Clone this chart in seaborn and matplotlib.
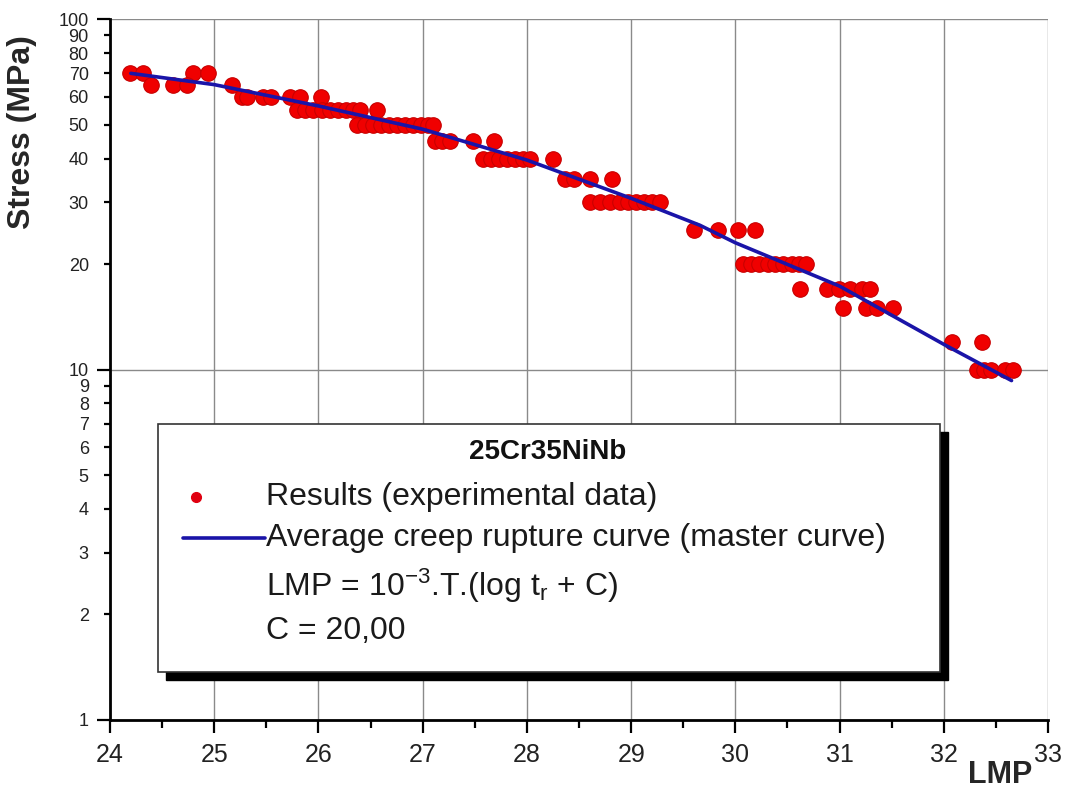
import numpy as np
import pandas as pd
import seaborn as sns
import matplotlib.pyplot as plt
from matplotlib.patches import Rectangle
from matplotlib.lines import Line2D
from matplotlib.ticker import LogLocator, FuncFormatter, MultipleLocator

# experimental creep rupture results (LMP, stress in MPa)
lmp_70 = [24.19, 24.32, 24.80, 24.94]
lmp_65 = [24.39, 24.60, 24.74, 25.17]
lmp_60 = [25.27, 25.31, 25.47, 25.54, 25.73, 25.82, 26.02]
lmp_55 = [25.79, 25.87, 25.95, 26.03, 26.11, 26.19, 26.26, 26.33, 26.40, 26.56]
lmp_50 = [26.37, 26.45, 26.52, 26.60, 26.68, 26.75, 26.83, 26.91, 26.98, 27.05, 27.10]
lmp_45 = [27.12, 27.19, 27.26, 27.48, 27.68]
lmp_40 = [27.58, 27.66, 27.73, 27.81, 27.89, 27.96, 28.03, 28.25]
lmp_35 = [28.37, 28.45, 28.61, 28.82]
lmp_30 = [28.61, 28.70, 28.80, 28.89, 28.97, 29.05, 29.12, 29.20, 29.28]
lmp_25 = [29.60, 29.83, 30.03, 30.19]
lmp_20 = [30.07, 30.15, 30.23, 30.31, 30.38, 30.46, 30.54, 30.61, 30.68]
lmp_17 = [30.62, 30.88, 30.99, 31.10, 31.22, 31.29]
lmp_15 = [31.03, 31.25, 31.36, 31.51]
lmp_12 = [32.08, 32.37]
lmp_10 = [32.32, 32.39, 32.45, 32.59, 32.66]
stress_levels = [70, 65, 60, 55, 50, 45, 40, 35, 30, 25, 20, 17, 15, 12, 10]

# master curve
curve_lmp = [24.2, 25.0, 26.0, 27.0, 28.0, 29.0, 29.66, 30.0, 31.0, 32.0, 32.65]
curve_stress = [70, 65, 56.5, 48.5, 39.6, 30.8, 25.8, 23.0, 17.3, 11.8, 9.3]

groups = [lmp_70, lmp_65, lmp_60, lmp_55, lmp_50, lmp_45, lmp_40, lmp_35,
          lmp_30, lmp_25, lmp_20, lmp_17, lmp_15, lmp_12, lmp_10]
pts = pd.DataFrame({
    "LMP": [x for g in groups for x in g],
    "Stress": [s for g, s in zip(groups, stress_levels) for _ in g],
})
curve = pd.DataFrame({"LMP": curve_lmp, "Stress": curve_stress})

sns.set_theme(style="white")
plt.rcParams['font.family'] = ['Liberation Sans', 'DejaVu Sans']
plt.rcParams['mathtext.default'] = 'regular'

fig = plt.figure(figsize=(10.84, 7.94), dpi=100)
ax = fig.add_axes([0.1015, 0.0932, 0.8653, 0.8828])

sns.scatterplot(data=pts, x="LMP", y="Stress", ax=ax, s=125, color="#f00000",
                edgecolor="#c80000", linewidth=0.8, zorder=3, legend=False)
sns.lineplot(data=curve, x="LMP", y="Stress", ax=ax, color="#1a14a8", lw=2.6,
             zorder=4, legend=False)

ax.set_yscale("log")
ax.set_xlim(24, 33)
ax.set_ylim(1, 100)

ax.xaxis.set_major_locator(MultipleLocator(1))
ax.xaxis.set_minor_locator(MultipleLocator(0.5))
ax.yaxis.set_major_locator(LogLocator(base=10))
ax.yaxis.set_minor_locator(LogLocator(base=10, subs=np.arange(2, 10)))
fmt = FuncFormatter(lambda v, p: "%d" % round(v))
ax.yaxis.set_major_formatter(fmt)
ax.yaxis.set_minor_formatter(fmt)

ax.grid(True, which="major", color="#8a8a8a", lw=1.0)
for side in ["top", "right"]:
    ax.spines[side].set_visible(False)
for side in ["left", "bottom"]:
    ax.spines[side].set_color("black")
    ax.spines[side].set_linewidth(2)

ax.tick_params(axis="both", which="both", direction="out", color="black",
               width=1.6, labelcolor="#222222", left=True, bottom=True)
ax.tick_params(axis="x", which="major", length=9.4, labelsize=18, pad=7)
ax.tick_params(axis="x", which="minor", length=5.8)
ax.tick_params(axis="y", which="major", length=9.4, labelsize=13, pad=6)
ax.tick_params(axis="y", which="minor", length=4.3, labelsize=13, pad=11)

ax.set_xlabel("")
ax.set_ylabel("Stress (MPa)", fontsize=23, fontweight="bold")
ax.yaxis.set_label_coords(-0.078, 0.839)
fig.text(0.893, 0.014, "LMP", fontsize=22, fontweight="bold", ha="left", va="baseline")

# legend box with hard black shadow
bx0, by0, bw, bh = 0.0512, 0.0685, 0.834, 0.354
ax.add_patch(Rectangle((bx0 + 0.0085, by0 - 0.0114), bw, bh, transform=ax.transAxes,
                       facecolor="black", edgecolor="black", zorder=5))
ax.add_patch(Rectangle((bx0, by0), bw, bh, transform=ax.transAxes,
                       facecolor="white", edgecolor="#333333", lw=1.2, zorder=6))
ax.text(0.467, 0.382, "25Cr35NiNb", transform=ax.transAxes, ha="center", va="center",
        fontsize=20, fontweight="bold", color="#111111", zorder=7)
ax.add_line(Line2D([0.0917], [0.318], transform=ax.transAxes, marker="o", ms=7,
                   color="#e00010", ls="none", zorder=7))
ax.add_line(Line2D([0.0778, 0.165], [0.260, 0.260], transform=ax.transAxes,
                   color="#1a14a8", lw=2.6, zorder=7))
legend_lines = ["Results (experimental data)",
                "Average creep rupture curve (master curve)",
                r"LMP = 10$^{-3}$.T.(log t$_{r}$ + C)",
                "C = 20,00"]
for txt, yy in zip(legend_lines, [0.318, 0.260, 0.191, 0.127]):
    ax.text(0.166, yy, txt, transform=ax.transAxes, ha="left", va="center",
            fontsize=23, color="#1a1a1a", zorder=7)

fig.savefig("out.png", dpi=100, facecolor="white")
